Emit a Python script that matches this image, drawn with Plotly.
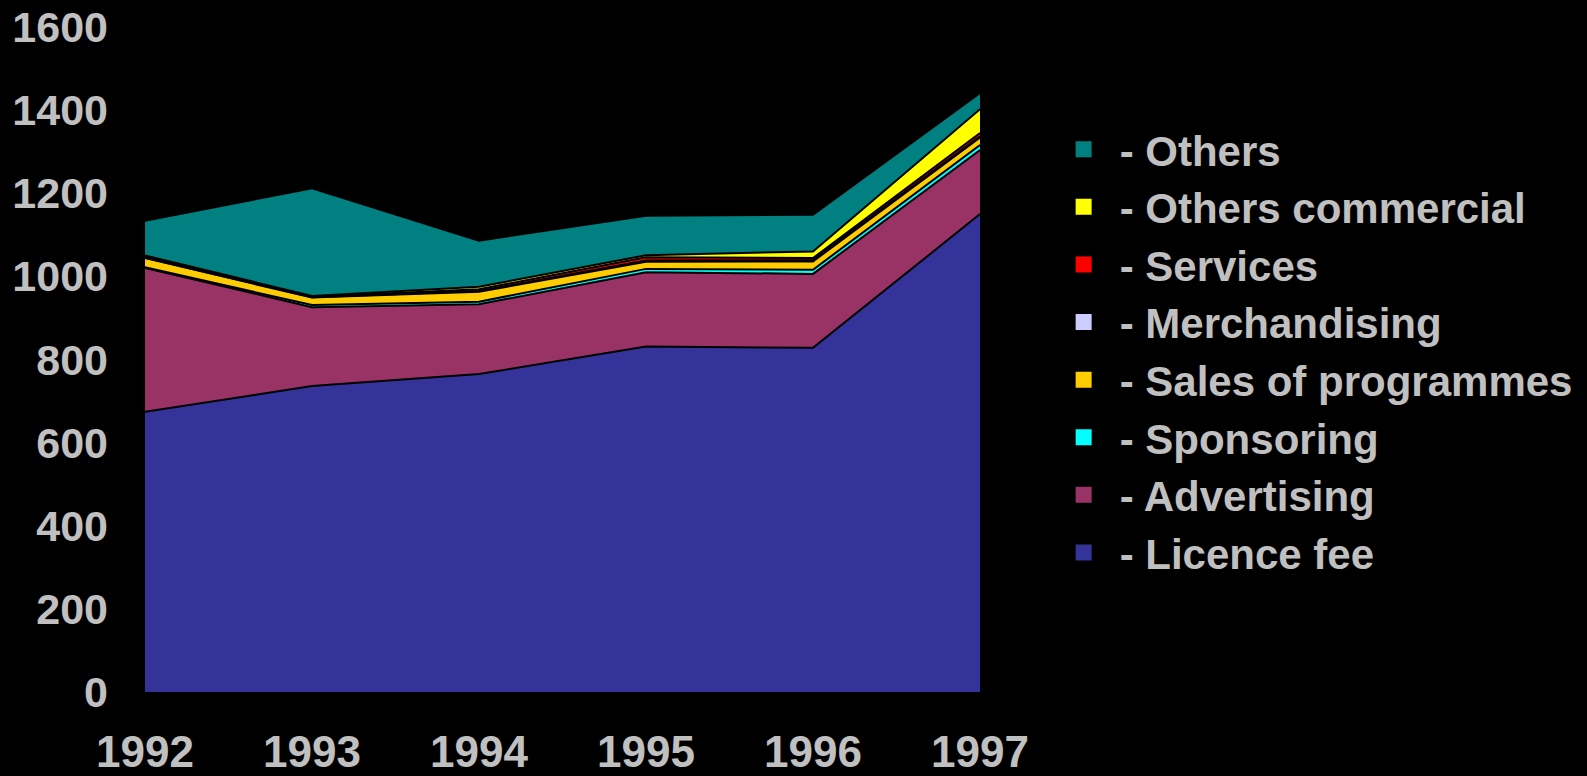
import plotly.graph_objects as go

years = [1992, 1993, 1994, 1995, 1996, 1997]
licence_fee = [674, 736, 765, 831, 828, 1150]
advertising = [346, 190, 168, 179, 178, 154]
sponsoring = [2, 5, 6, 8, 10, 12]
sales_of_programmes = [22, 18, 24, 17, 20, 18]
merchandising = [1, 1, 2, 3, 3, 3]
services = [2, 1, 4, 8, 5, 8]
others_commercial = [3, 2, 6, 5, 16, 57]
others = [84, 259, 111, 95, 88, 39]

series = [
    ("- Licence fee", licence_fee, "#333399"),
    ("- Advertising", advertising, "#993366"),
    ("- Sponsoring", sponsoring, "#00FFFF"),
    ("- Sales of programmes", sales_of_programmes, "#FFCC00"),
    ("- Merchandising", merchandising, "#CCCCFF"),
    ("- Services", services, "#FF0000"),
    ("- Others commercial", others_commercial, "#FFFF00"),
    ("- Others", others, "#008080"),
]

fig = go.Figure()
for name, vals, col in series:
    fig.add_trace(go.Scatter(
        x=years, y=vals, name=name, stackgroup="one", mode="lines",
        line=dict(color="black", width=2), fillcolor=col, showlegend=False,
    ))
for i, (name, vals, col) in enumerate(series):
    fig.add_trace(go.Scatter(
        x=[None], y=[None], name=name, mode="markers", legendgroup="g%d" % i,
        marker=dict(symbol="square", size=20, color=col, line=dict(width=0)),
    ))

fig.update_layout(
    width=1587, height=776,
    paper_bgcolor="black", plot_bgcolor="black",
    margin=dict(l=145, r=607, t=27, b=84, autoexpand=False),
    showlegend=True,
    legend=dict(
        traceorder="reversed", x=1.081, y=0.867, xanchor="left", yanchor="top",
        font=dict(family="Liberation Sans, Arial, sans-serif", size=42, color="#C0C0C0", weight="bold"),
        tracegroupgap=14.5, itemsizing="trace", itemwidth=62, bgcolor="rgba(0,0,0,0)",
    ),
    xaxis=dict(
        range=[1992, 1997], tickvals=years, ticktext=[str(y) for y in years],
        showgrid=False, zeroline=False, showline=False, ticks="", automargin=False,
        tickfont=dict(family="Liberation Sans, Arial, sans-serif",
                      size=44, color="#C0C0C0", weight="bold"),
        ticklabelstandoff=30,
    ),
    yaxis=dict(
        range=[0, 1600], tickvals=[0, 200, 400, 600, 800, 1000, 1200, 1400, 1600],
        showgrid=False, zeroline=False, showline=False, ticks="", automargin=False,
        tickfont=dict(family="Liberation Sans, Arial, sans-serif", size=43, color="#C0C0C0", weight="bold"),
        ticklabelstandoff=36,
    ),
)

fig.write_html("out.html", config={"displayModeBar": False},
               post_script="document.body.style.margin='0';document.body.style.overflow='hidden';")
